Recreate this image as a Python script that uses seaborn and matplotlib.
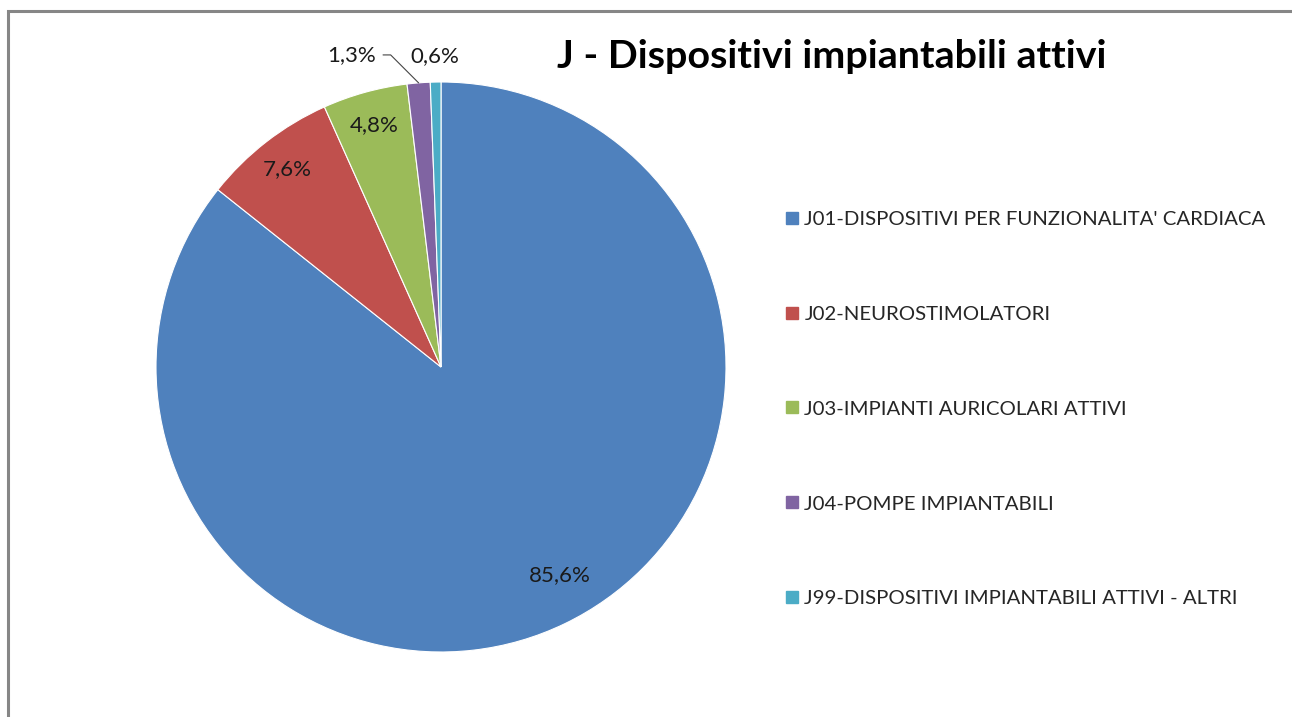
import matplotlib
matplotlib.use("Agg")
import matplotlib.pyplot as plt
from matplotlib.patches import Rectangle
from matplotlib.lines import Line2D
import seaborn as sns
import numpy as np

categories = [
    "J01-DISPOSITIVI PER FUNZIONALITA' CARDIACA",
    "J02-NEUROSTIMOLATORI",
    "J03-IMPIANTI AURICOLARI ATTIVI",
    "J04-POMPE IMPIANTABILI",
    "J99-DISPOSITIVI IMPIANTABILI ATTIVI - ALTRI",
]
shares = [85.6, 7.6, 4.8, 1.3, 0.6]
colors = ["#4F81BD", "#C0504D", "#9BBB59", "#8064A2", "#4BACC6"]
title = "J - Dispositivi impiantabili attivi"

sns.set_theme(style="white")
plt.rcParams["font.family"] = ["Lato", "DejaVu Sans"]

W, H = 1292, 717
fig = plt.figure(figsize=(W / 100, H / 100), dpi=100)

# pie centred at (441, 367) px, radius ~285 px
cx, cy, r = 441, 367, 285
ax = fig.add_axes([(cx - r) / W, (H - cy - r) / H, 2 * r / W, 2 * r / H])
wedges, _ = ax.pie(shares, colors=colors, startangle=90, counterclock=False,
                   wedgeprops=dict(edgecolor="white", linewidth=0.8))
ax.set_xlim(-1, 1)
ax.set_ylim(-1, 1)
ax.set_aspect("equal")


def fmt(v):
    return f"{v:.1f}".replace(".", ",") + "%"


lab_fs = 16
for i, (w, v) in enumerate(zip(wedges, shares)):
    mid = np.deg2rad((w.theta1 + w.theta2) / 2)
    if i == 0:
        # Excel nudges the big label a bit towards the right
        mid += np.deg2rad(4)
    if v > 3:
        d = 0.84 if i == 0 else 0.88
        ax.text(d * np.cos(mid), d * np.sin(mid), fmt(v), ha="center",
                va="center", fontsize=lab_fs, color="#1a1a1a")
    elif i == len(shares) - 1:
        ax.text(1.09 * np.cos(mid), 1.09 * np.sin(mid), fmt(v), ha="center",
                va="center", fontsize=lab_fs, color="#1a1a1a")
    else:
        ax.annotate(fmt(v), xy=(np.cos(mid), np.sin(mid)),
                    xytext=(-0.315, 1.095), textcoords="data",
                    ha="center", va="center", fontsize=lab_fs, color="#1a1a1a",
                    arrowprops=dict(arrowstyle="-", color="#444444", lw=0.8,
                                    shrinkA=3, shrinkB=0,
                                    connectionstyle="angle,angleA=0,angleB=135,rad=0"))

fig.text(832 / W, 1 - 57 / H, title, ha="center", va="center",
         fontsize=28.4, fontweight="bold", color="black")

handles = [Line2D([], [], marker="s", linestyle="none", markersize=9,
                  markerfacecolor=c, markeredgecolor=c) for c in colors]
fig.legend(handles, categories, loc="center left",
           bbox_to_anchor=(783 / W, 1 - 409 / H), frameon=False,
           fontsize=14.7, labelspacing=3.8, handletextpad=0.15,
           handlelength=0.9, borderpad=0, borderaxespad=0)

# chart-area border (right and bottom edges lie outside the image)
fig.patches.append(Rectangle((8 / W, -0.2), 1.5, 1.2 - 11 / H,
                             transform=fig.transFigure, fill=False,
                             edgecolor="#868686", linewidth=2.2))

fig.savefig("out.png", dpi=100)
